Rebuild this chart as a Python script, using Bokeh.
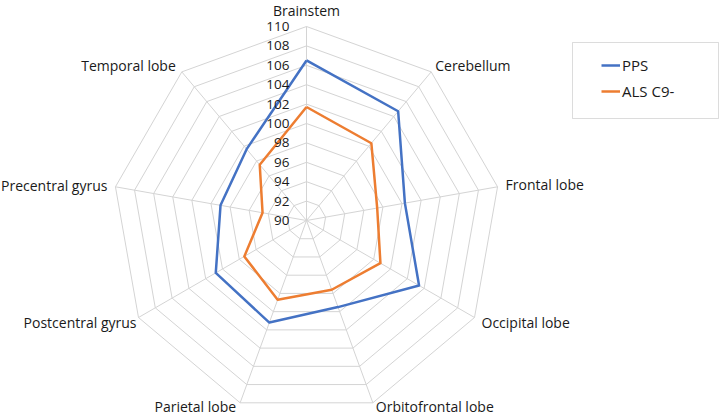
import numpy as np
from bokeh.plotting import figure
from bokeh.models import Range1d, Legend, LegendItem, BoxAnnotation
from bokeh.core.properties import value
from bokeh.embed import file_html
from bokeh.resources import INLINE

# ---- data ----
categories = ["Brainstem", "Cerebellum", "Frontal lobe", "Occipital lobe",
              "Orbitofrontal lobe", "Parietal lobe", "Postcentral gyrus",
              "Precentral gyrus", "Temporal lobe"]
pps = [106.5, 104.7, 100.3, 103.4, 99.5, 101.2, 100.8, 99.0, 99.6]
als_c9 = [101.7, 100.4, 97.4, 98.8, 97.6, 98.7, 97.4, 94.6, 97.5]
tick_values = [90, 92, 94, 96, 98, 100, 102, 104, 106, 108, 110]
tick_labels = ["90", "92", "94", "96", "98", "100", "102", "104", "106", "108", "110"]
v_min, v_max = 90, 110

# ---- layout ----
W, H = 730, 424            # figure size (figure is pulled 8px up/left by margin)
cx, cy = 314, 228          # radar centre in figure pixels
R = 194                    # radius of outer ring in pixels
scale = R / (v_max - v_min)

FONT = "Open Sans"
TXT = "#1a1a1a"
GRID = "#d4d4d4"
BLUE = "#4472C4"
ORANGE = "#ED7D31"

p = figure(width=W, height=H, output_backend="svg", toolbar_location=None,
           x_range=Range1d(-cx / scale, (W - cx) / scale),
           y_range=Range1d(-(H - cy) / scale, cy / scale),
           min_border=0, outline_line_color=None)
p.margin = (-8, -8, -8, -8)
p.axis.visible = False
p.grid.visible = False
p.background_fill_color = "white"

n = len(categories)
thetas = np.deg2rad(90 - 360.0 / n * np.arange(n))
cos_t, sin_t = np.cos(thetas), np.sin(thetas)


def to_xy(vals):
    r = np.asarray(vals, dtype=float) - v_min
    x = r * cos_t
    y = r * sin_t
    return list(x) + [x[0]], list(y) + [y[0]]


# rings
ring_xs, ring_ys = [], []
for v in tick_values[1:]:
    xs, ys = to_xy([v] * n)
    ring_xs.append(xs)
    ring_ys.append(ys)
p.multi_line(ring_xs, ring_ys, line_color=GRID, line_width=1)

# spokes
rmax = v_max - v_min
p.segment(x0=[0] * n, y0=[0] * n,
          x1=list(rmax * cos_t), y1=list(rmax * sin_t),
          line_color=GRID, line_width=1)

# series
px, py = to_xy(pps)
ax, ay = to_xy(als_c9)
r_pps = p.line(px, py, line_color=BLUE, line_width=2.5, line_join="round")
r_als = p.line(ax, ay, line_color=ORANGE, line_width=2.5, line_join="round")

# tick labels along the Brainstem spoke
p.text(x=[0] * len(tick_values), y=[v - v_min for v in tick_values], text=tick_labels,
       text_align="right", text_baseline="middle", x_offset=-17,
       text_font=value(FONT), text_font_size="13.5px", text_color=TXT)

# category labels
aligns = ["center", "left", "left", "left", "left", "right", "right", "right", "right"]
x_offs = [0, 4, 8, 7, 3, -4, -2, -8, -6]
y_offs = [-16, -6, -2, 5, 4, 4, 5, -1, -6]
for i, cat in enumerate(categories):
    p.text(x=[rmax * cos_t[i]], y=[rmax * sin_t[i]], text=[cat],
           text_align=aligns[i], text_baseline="middle",
           x_offset=x_offs[i], y_offset=y_offs[i],
           text_font=value(FONT), text_font_size="14px", text_color=TXT)

# legend
legend = Legend(items=[LegendItem(label="PPS", renderers=[r_pps]),
                       LegendItem(label="ALS C9-", renderers=[r_als])],
                location=(609, 416 - 101), padding=0, spacing=6, margin=0,
                glyph_width=19, glyph_height=20, label_height=20, label_standoff=2,
                border_line_alpha=0, background_fill_alpha=0,
                label_text_font=FONT, label_text_font_size="15px", label_text_color=TXT)
p.add_layout(legend)

box = BoxAnnotation(left=580, right=726, bottom=416 - 118, top=416 - 42,
                    left_units="screen", right_units="screen",
                    bottom_units="screen", top_units="screen",
                    fill_alpha=0, line_color="#8c8c8c", line_width=1)
p.add_layout(box)

open("out.html", "w").write(file_html(p, INLINE))
